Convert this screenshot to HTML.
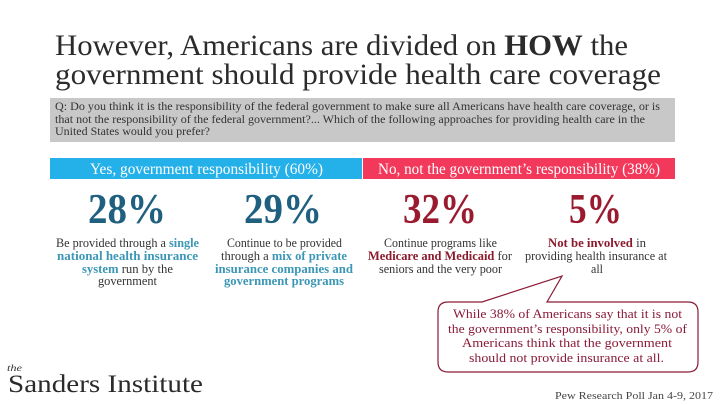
<!DOCTYPE html>
<html><head><meta charset="utf-8"><style>
html,body{margin:0;padding:0;background:#fff;}
svg{display:block;}
text{font-family:"Liberation Serif",serif;}
</style></head><body>
<svg width="720" height="405" viewBox="0 0 720 405" xmlns="http://www.w3.org/2000/svg">
<rect width="720" height="405" fill="#ffffff"/>
<!-- Title -->
<text x="55" y="55" font-size="29.5" fill="#2b2b2b" textLength="573" lengthAdjust="spacingAndGlyphs">However, Americans are divided on <tspan font-weight="bold">HOW</tspan> the</text>
<text x="55" y="84" font-size="29.5" fill="#2b2b2b" textLength="606" lengthAdjust="spacingAndGlyphs">government should provide health care coverage</text>
<!-- Question box -->
<rect x="50" y="98" width="625" height="44" fill="#c8c8c8"/>
<g font-size="11.5" fill="#333">
<text x="55" y="110" textLength="605" lengthAdjust="spacingAndGlyphs">Q: Do you think it is the responsibility of the federal government to make sure all Americans have health care coverage, or is</text>
<text x="55" y="123" textLength="590" lengthAdjust="spacingAndGlyphs">that not the responsibility of the federal government?... Which of the following approaches for providing health care in the</text>
<text x="55" y="135" textLength="155" lengthAdjust="spacingAndGlyphs">United States would you prefer?</text>
</g>
<!-- Bars -->
<rect x="50" y="158" width="312" height="21" fill="#24b0e8"/>
<rect x="363" y="158" width="312" height="21" fill="#f2385b"/>
<text x="90" y="174" font-size="16" fill="#ffffff" textLength="233" lengthAdjust="spacingAndGlyphs">Yes, government responsibility (60%)</text>
<text x="378" y="174" font-size="16" fill="#ffffff" textLength="282" lengthAdjust="spacingAndGlyphs">No, not the government’s responsibility (38%)</text>
<!-- Numbers -->
<g font-size="42" font-weight="bold">
<text x="88" y="223" fill="#1f5f7f" textLength="78" lengthAdjust="spacingAndGlyphs">28%</text>
<text x="244" y="223" fill="#1f5f7f" textLength="78" lengthAdjust="spacingAndGlyphs">29%</text>
<text x="403" y="223" fill="#9a1b2f" textLength="74" lengthAdjust="spacingAndGlyphs">32%</text>
<text x="569" y="223" fill="#9a1b2f" textLength="53" lengthAdjust="spacingAndGlyphs">5%</text>
</g>
<!-- Descriptions -->
<g font-size="12.5" fill="#333">
<text x="56" y="247" textLength="143" lengthAdjust="spacingAndGlyphs">Be provided through a <tspan font-weight="bold" fill="#3b97b5">single</tspan></text>
<text x="57" y="260" textLength="141" lengthAdjust="spacingAndGlyphs" font-weight="bold" fill="#3b97b5">national health insurance</text>
<text x="82" y="273" textLength="91" lengthAdjust="spacingAndGlyphs"><tspan font-weight="bold" fill="#3b97b5">system</tspan> run by the</text>
<text x="98" y="285" textLength="59" lengthAdjust="spacingAndGlyphs">government</text>

<text x="227" y="247" textLength="115" lengthAdjust="spacingAndGlyphs">Continue to be provided</text>
<text x="221" y="260" textLength="126" lengthAdjust="spacingAndGlyphs">through a <tspan font-weight="bold" fill="#3b97b5">mix of private</tspan></text>
<text x="215" y="273" textLength="138" lengthAdjust="spacingAndGlyphs" font-weight="bold" fill="#3b97b5">insurance companies and</text>
<text x="224" y="285" textLength="120" lengthAdjust="spacingAndGlyphs" font-weight="bold" fill="#3b97b5">government programs</text>

<text x="384" y="247" textLength="113" lengthAdjust="spacingAndGlyphs">Continue programs like</text>
<text x="368" y="260" textLength="144" lengthAdjust="spacingAndGlyphs"><tspan font-weight="bold" fill="#8c1a2c">Medicare and Medicaid</tspan> for</text>
<text x="379" y="273" textLength="123" lengthAdjust="spacingAndGlyphs">seniors and the very poor</text>

<text x="548" y="247" textLength="98" lengthAdjust="spacingAndGlyphs"><tspan font-weight="bold" fill="#8c1a2c">Not be involved</tspan> in</text>
<text x="525" y="260" textLength="142" lengthAdjust="spacingAndGlyphs">providing health insurance at</text>
<text x="591" y="273" textLength="12" lengthAdjust="spacingAndGlyphs">all</text>
</g>
<!-- Callout -->
<path d="M448,302 L482,302 L562,276 L547,302 L688,302 Q698,302 698,312 L698,362 Q698,372 688,372 L448,372 Q438,372 438,362 L438,312 Q438,302 448,302 Z" fill="#ffffff" stroke="#8a1b35" stroke-width="1.2"/>
<g font-size="13" fill="#8a1b3a">
<text x="453" y="318" textLength="229" lengthAdjust="spacingAndGlyphs">While 38% of Americans say that it is not</text>
<text x="448" y="333" textLength="239" lengthAdjust="spacingAndGlyphs">the government’s responsibility, only 5% of</text>
<text x="462" y="347" textLength="210" lengthAdjust="spacingAndGlyphs">Americans think that the government</text>
<text x="469" y="362" textLength="195" lengthAdjust="spacingAndGlyphs">should not provide insurance at all.</text>
</g>
<!-- Footer -->
<text x="7" y="371" font-size="9" font-style="italic" fill="#333" textLength="15" lengthAdjust="spacingAndGlyphs">the</text>
<text x="8" y="392" font-size="25" fill="#2b2b2b" textLength="195" lengthAdjust="spacingAndGlyphs">Sanders Institute</text>
<text x="555" y="399" font-size="11" fill="#444" textLength="158" lengthAdjust="spacingAndGlyphs">Pew Research Poll Jan 4-9, 2017</text>
</svg>
</body></html>
